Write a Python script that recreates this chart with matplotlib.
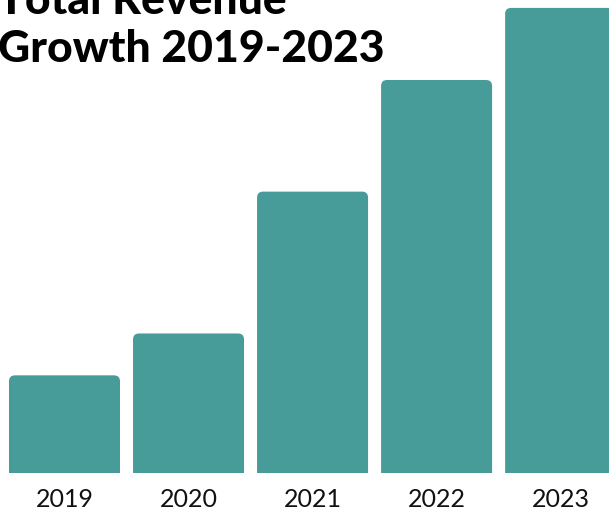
import matplotlib
matplotlib.use("Agg")
import matplotlib.pyplot as plt
from matplotlib.patches import FancyBboxPatch

# dados (receita em milhoes, escala aproximada)
years = ["2019", "2020", "2021", "2022", "2023"]
revenue = [2.1, 3.0, 6.05, 8.45, 10.0]

title = "Total Revenue\nGrowth 2019-2023"
teal = "#479c99"

fig = plt.figure(figsize=(6.09, 5.12), dpi=100)
ax = fig.add_axes([0, 39 / 512, 1, 473 / 512])

x = range(len(years))
bars = ax.bar(x, revenue, width=0.895, color=teal)
ax.set_xlim(-0.52, 4.39)
ax.set_ylim(0, 10.17)

# trocando as barras por retangulos com cantos arredondados
ax_w = fig.get_figwidth() * fig.dpi * 1.0
ax_h = fig.get_figheight() * fig.dpi * 473 / 512
x_per_px = (4.39 + 0.52) / ax_w
y_per_px = 10.17 / ax_h
for b in bars:
    b.set_visible(False)
    r = FancyBboxPatch((b.get_x(), -1), b.get_width(), b.get_height() + 1,
                       boxstyle="round,pad=0,rounding_size=%f" % (6 * x_per_px),
                       mutation_aspect=y_per_px / x_per_px,
                       facecolor=teal, edgecolor="none", clip_on=True)
    ax.add_patch(r)

ax.set_xticks(list(x))
ax.set_xticklabels(years, fontsize=18, family="Lato", color="#111111")
ax.tick_params(axis="x", length=0, pad=11)
ax.set_yticks([])
for s in ax.spines.values():
    s.set_visible(False)

fig.text(-0.003, 1 - 62 / 512, title, fontsize=32, family="Lato",
         fontweight="black", color="black", ha="left", va="baseline",
         linespacing=1.25)

fig.savefig("out.png", dpi=100)
